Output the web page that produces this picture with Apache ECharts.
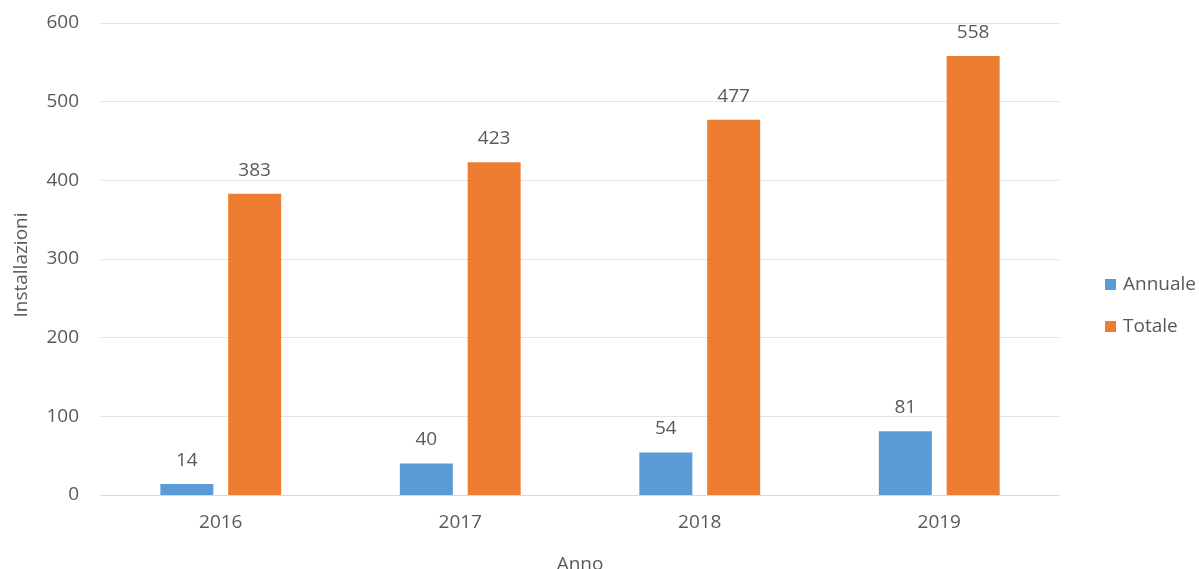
<!DOCTYPE html>
<html><head><meta charset="utf-8">
<script src="https://cdn.jsdelivr.net/npm/echarts@6/dist/echarts.min.js"></script>
<style>html,body{margin:0;padding:0;background:#fff}#c{width:1199px;height:569px}</style>
</head><body><div id="c"></div>
<script>
const categories = ['2016', '2017', '2018', '2019'];
const annuale = [14, 40, 54, 81];
const totale = [383, 423, 477, 558];
const yTicks = { min: 0, max: 600, interval: 100 };

const font = '"Open Sans", "Liberation Sans", sans-serif';
const txt = '#595959';
const fs = 19;
const chart = echarts.init(document.getElementById('c'));
chart.setOption({
  animation: false,
  textStyle: { fontFamily: font },
  grid: { left: 101, right: 140, top: 23, bottom: 74, containLabel: false, outerBoundsMode: 'none' },
  legend: {
    orient: 'vertical', left: 1100, top: 270, itemGap: 23,
    itemWidth: 11, itemHeight: 11, icon: 'rect',
    textStyle: { color: txt, fontSize: fs, fontFamily: font, padding: [0, 0, 0, 2] },
    data: ['Annuale', 'Totale']
  },
  xAxis: {
    type: 'category', data: categories,
    name: 'Anno', nameLocation: 'middle', nameGap: 60,
    nameTextStyle: { color: txt, fontSize: fs, fontFamily: font },
    axisLine: { show: true, lineStyle: { color: '#d9d9d9' } },
    axisTick: { show: false },
    axisLabel: { color: txt, fontSize: fs, margin: 18, fontFamily: font }
  },
  yAxis: {
    type: 'value', min: yTicks.min, max: yTicks.max, interval: yTicks.interval,
    name: 'Installazioni', nameLocation: 'middle', nameGap: 70,
    nameTextStyle: { color: txt, fontSize: fs, fontFamily: font, padding: [0, 0, 0, -12] },
    axisLine: { show: false }, axisTick: { show: false },
    axisLabel: { color: txt, fontSize: fs, margin: 22, fontFamily: font },
    splitLine: { lineStyle: { color: '#e3e3e3', width: 1 } }
  },
  series: [
    { name: 'Annuale', type: 'bar', data: annuale, barWidth: 53, barGap: '28%',
      itemStyle: { color: '#5B9BD5' },
      label: { show: true, position: 'top', distance: 14, color: txt, fontSize: fs, fontFamily: font } },
    { name: 'Totale', type: 'bar', data: totale, barWidth: 53,
      itemStyle: { color: '#ED7D31' },
      label: { show: true, position: 'top', distance: 14, color: txt, fontSize: fs, fontFamily: font } }
  ]
});
</script></body></html>
